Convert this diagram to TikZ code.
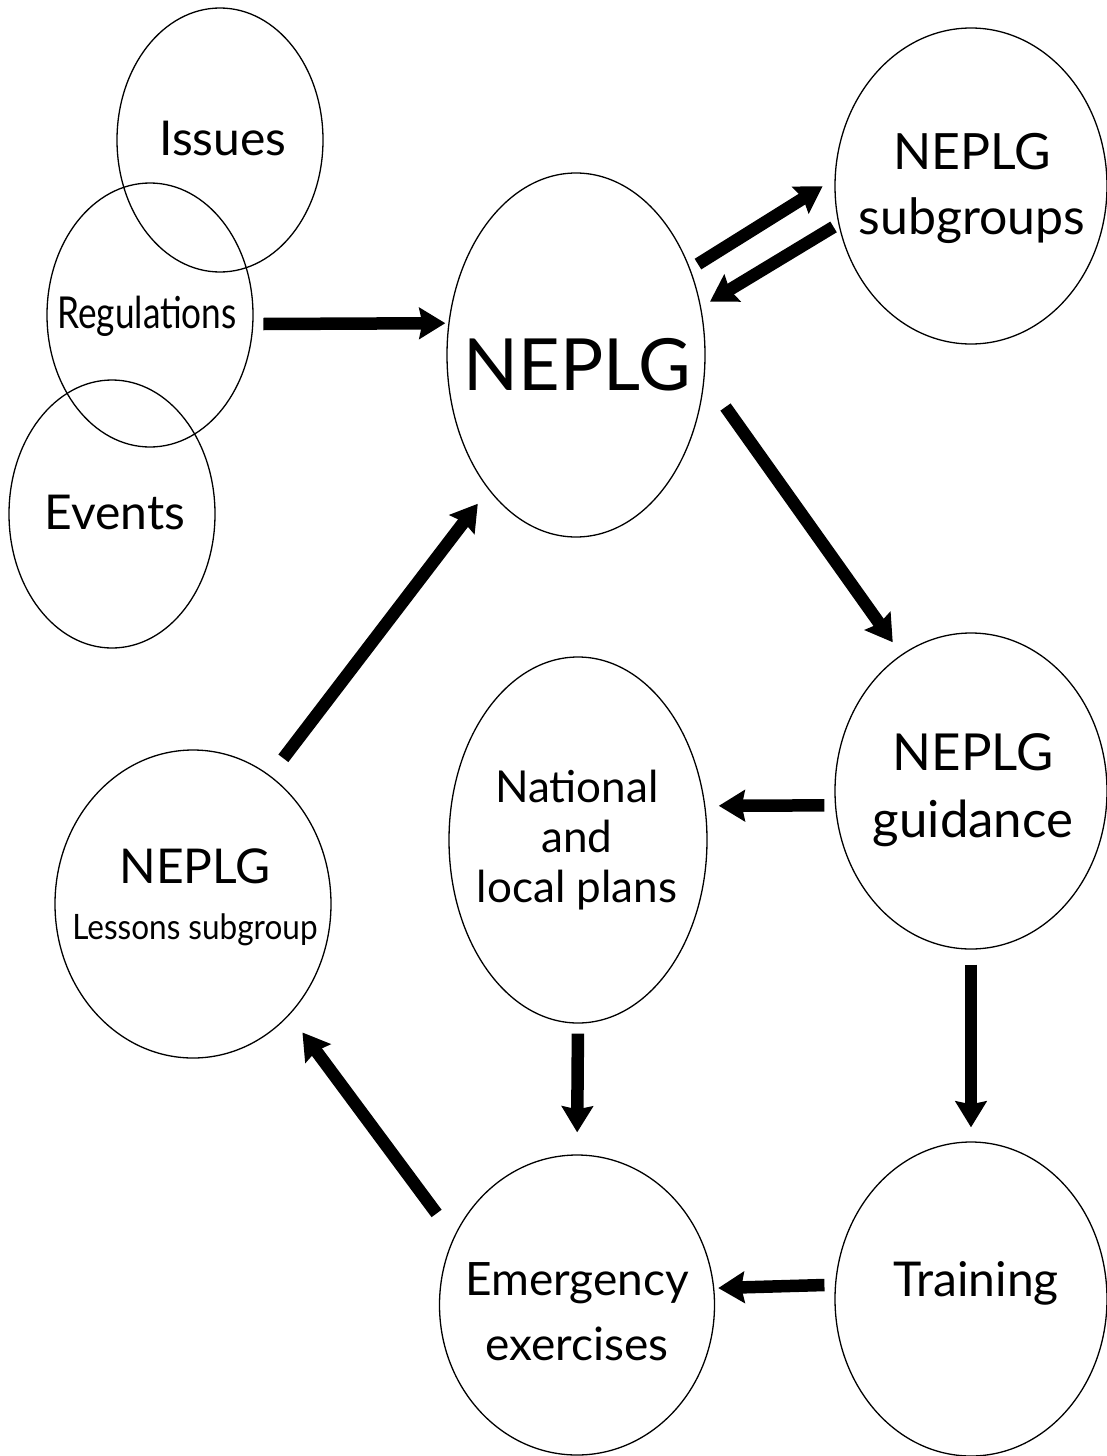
\documentclass[tikz,border=0pt]{standalone}
\usepackage{fontspec}
\setmainfont{Lato}
\usepackage{graphicx}
\usetikzlibrary{shapes.geometric}
\usetikzlibrary{arrows.meta}

\tikzset{
  bubble/.style={ellipse, draw, line width=1.3pt, inner sep=0pt},
  bubbletext/.style={align=center, inner sep=0pt},
  flow/.style={line width=12.5pt, -{Stealth[length=26pt,width=31pt,inset=3pt]}},
}
\newcommand{\fs}[1]{\fontsize{#1}{1.25\dimexpr#1pt\relax}\selectfont}

\begin{document}
\begin{tikzpicture}[x=1pt, y=-1pt]
        \useasboundingbox (0,0) rectangle (1107,1456);

        % Inputs
        \node[bubble, minimum width=206pt, minimum height=264pt] (issues) at (220,140) {};
        \node[bubble, minimum width=206pt, minimum height=264pt] (regs) at (150,315) {};
        \node[bubble, minimum width=206pt, minimum height=268pt] (events) at (112,514) {};
        \node[bubbletext, font=\fs{48}] (issues-t) at (223,138) {Issues};
        \node[bubbletext, font=\fs{44}] (regs-t) at (147,316) {\scalebox{0.8}[1]{Regulations}};
        \node[bubbletext, font=\fs{48}] (events-t) at (115,512) {Events};

        % Main group
        \node[bubble, minimum width=258pt, minimum height=364pt] (main) at (576,355) {};
        \node[bubbletext, font=\fs{72}] (main-t) at (577,365) {NEPLG};
        \node[bubble, minimum width=272pt, minimum height=316pt] (sub) at (971,186) {};
        \node[bubbletext, font=\fontsize{50}{65}\selectfont] (sub-t) at (972,188) {NEPLG\\subgroups};

        % Guidance and plans
        \node[bubble, minimum width=272pt, minimum height=316pt] (guide) at (971,791) {};
        \node[bubbletext, font=\fontsize{51}{67}\selectfont] (guide-t) at (973,790) {NEPLG\\guidance};
        \node[bubble, minimum width=258pt, minimum height=366pt] (plans) at (578,840) {};
        \node[bubbletext, font=\fontsize{44}{50}\selectfont] (plans-t) at (577,840) {National\\and\\local plans};

        % Lessons
        \node[bubble, minimum width=276pt, minimum height=308pt] (lessons) at (193,904) {};
        \node[bubbletext, font=\fs{48}] (lessons-t1) at (195,866) {NEPLG};
        \node[bubbletext, font=\fs{35}] (lessons-t2) at (195,930) {\scalebox{0.9}[1]{Lessons subgroup}};

        % Training and exercises
        \node[bubble, minimum width=272pt, minimum height=314pt] (train) at (971,1299) {};
        \node[bubbletext, font=\fs{48}] (train-t) at (976,1283) {Training};
        \node[bubble, minimum width=275pt, minimum height=300pt] (exer) at (577,1305) {};
        \node[bubbletext, font=\fontsize{46}{65}\selectfont] (exer-t) at (577,1312) {Emergency\\exercises};

        % Cycle
        \draw[flow, shorten <=10pt, shorten >=3pt] (regs.-5.56) -- (main.166.73);
        \draw[flow, shorten <=9pt, shorten >=14pt] (main.37.6) -- (sub.177.8);
        \draw[flow, shorten <=5.6pt, shorten >=10.4pt] (sub.-164.4) -- (main.21.8);
        \draw[flow, shorten <=36pt, shorten >=15pt] (main.-10.5) -- (guide.117.3);
        \draw[flow, shorten <=10.5pt, shorten >=13.4pt] (guide.-174.1) -- (plans.15.45);
        \draw[flow, shorten <=15pt, shorten >=14pt] (guide.south) -- (train.north);
        \draw[flow, shorten <=10.5pt, shorten >=4pt] (train.174.94) -- (exer.7.51);
        \draw[flow, shorten <=10pt, shorten >=22pt] (plans.south) -- (exer.north);
        \draw[flow, shorten <=29pt, shorten >=21.7pt] (exer.151.6) -- (lessons.-49);
        \draw[flow, shorten <=21.7pt, shorten >=17.6pt] (lessons.59.5) -- (main.-123.1);
\end{tikzpicture}
\end{document}
